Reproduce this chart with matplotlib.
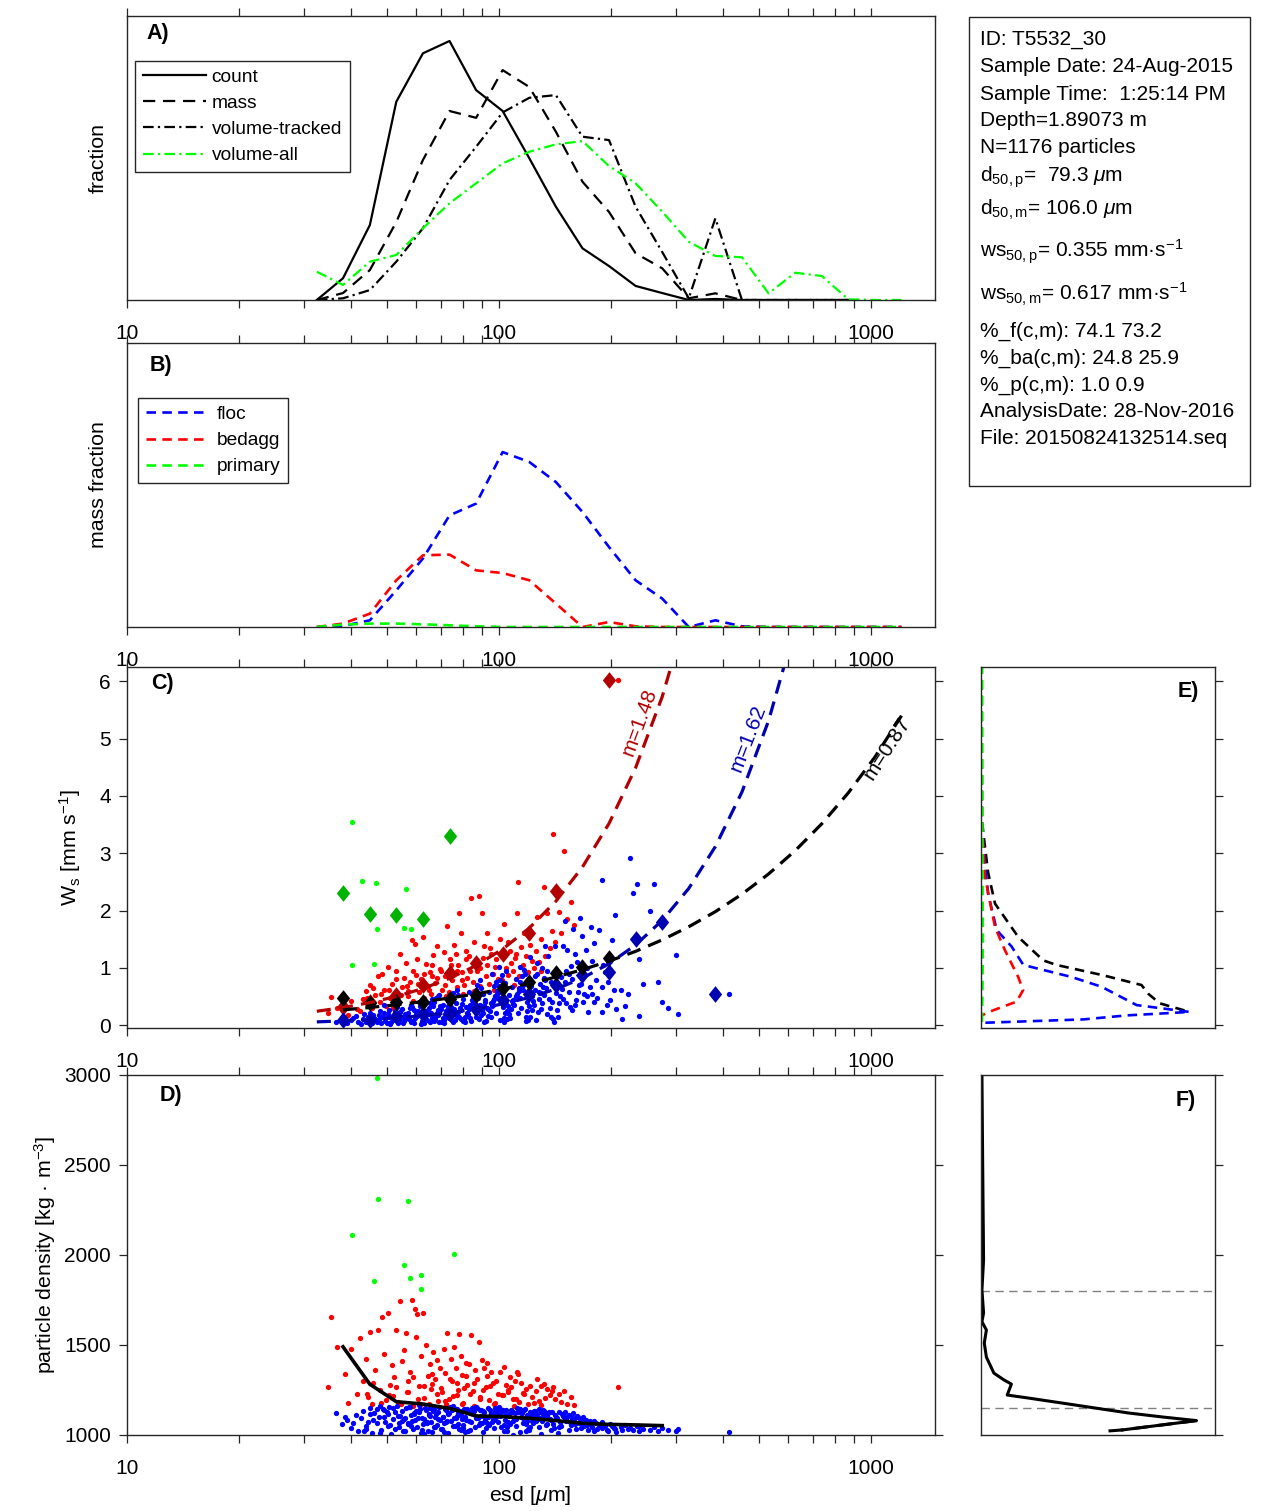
import matplotlib.pyplot as plt
import numpy as np
from matplotlib.ticker import NullFormatter
from matplotlib.patches import Rectangle

plt.rcParams['font.family'] = ['Liberation Sans', 'DejaVu Sans']
plt.rcParams['mathtext.fontset'] = 'custom'
plt.rcParams['mathtext.rm'] = 'Liberation Sans'
plt.rcParams['mathtext.it'] = 'Liberation Sans:italic'
plt.rcParams['font.size'] = 15
plt.rcParams['axes.linewidth'] = 1.0
plt.rcParams['axes.edgecolor'] = '#262626'

# ---- size bins (esd, um) ----
esd_bins = [32.4, 38.1, 45.0, 53.0, 62.5, 73.7, 86.9, 102.4, 120.8, 142.4, 167.9, 197.9,
            233.3, 275.1, 324.3, 382.3, 450.8, 531.5, 626.6, 738.8, 871.0, 1027.0, 1211.0]

# ---- A) size distributions (fraction) ----
count_frac = [0, 0.0153, 0.0528, 0.1396, 0.1737, 0.1824, 0.1478, 0.1331, 0.0998, 0.0657, 0.0364,
              0.0239, 0.0099, 0.0049, 0, 0.0007, 0, 0, 0, 0, 0]
mass_frac = [0, 0.0049, 0.0211, 0.0549, 0.0986, 0.1331, 0.1283, 0.1619, 0.1500, 0.1185, 0.0833,
             0.0620, 0.0329, 0.0223, 0.0012, 0.0047, 0, 0, 0, 0, 0]
voltr_frac = [0, 0.0012, 0.0070, 0.0270, 0.0505, 0.0845, 0.1079, 0.1321, 0.1424, 0.1443, 0.1150,
              0.1126, 0.0657, 0.0338, 0.0012, 0.0575, 0, 0, 0, 0, 0]
volall_frac = [0.0199, 0.0106, 0.0270, 0.0317, 0.0505, 0.0681, 0.0822, 0.0962, 0.1044, 0.1096,
               0.1119, 0.0943, 0.0822, 0.0622, 0.0410, 0.0310, 0.0301, 0.0047, 0.0192, 0.0169,
               0.0005, 0, 0]

# ---- B) mass fraction per class ----
floc_mf = [0, 0.0007, 0.0047, 0.0258, 0.0482, 0.0786, 0.0869, 0.1232, 0.1162, 0.1021, 0.0810,
           0.0563, 0.0329, 0.0200, 0, 0.0047, 0.0005, 0, 0, 0, 0, 0, 0]
bedagg_mf = [0, 0.0024, 0.0094, 0.0329, 0.0505, 0.0510, 0.0399, 0.0380, 0.0329, 0.0165, 0,
             0.0035, 0.0005, 0, 0, 0, 0, 0, 0, 0, 0, 0, 0]
primary_mf = [0, 0.0017, 0.0024, 0.0024, 0.0019, 0.0012, 0.0005, 0, 0, 0, 0, 0, 0, 0, 0, 0,
              0, 0, 0, 0, 0, 0, 0]

# ---- particles (esd um, ws mm/s, density kg/m3) ----
floc = [
    (36.5, 0.05, 1124), (37.8, 0.12, 1060), (39.0, 0.03, 1085), (40.1, 0.09, 1040), (41.2, 0.16, 1110),
    (41.8, 0.06, 1020), (38.5, 0.07, 1098), (40.6, 0.13, 1066), (43.4, 0.19, 1024),
    (42.5, 0.02, 1095), (43.1, 0.11, 1135), (43.8, 0.07, 1050), (44.4, 0.15, 1075), (45.0, 0.21, 1150),
    (45.6, 0.04, 1010), (46.2, 0.13, 1120), (46.9, 0.09, 1065), (47.5, 0.18, 1100), (47.9, 0.25, 1160),
    (44.0, 0.05, 1032), (44.9, 0.10, 1118), (46.0, 0.17, 1082), (47.0, 0.06, 1142), (48.0, 0.12, 1012),
    (48.3, 0.03, 1030), (48.9, 0.14, 1145), (49.5, 0.08, 1070), (50.2, 0.20, 1115), (50.8, 0.26, 1155),
    (51.4, 0.05, 1005), (52.0, 0.11, 1088), (52.7, 0.17, 1128), (53.3, 0.31, 1162), (53.9, 0.09, 1045),
    (54.4, 0.23, 1105), (54.9, 0.14, 1078), (49.2, 0.35, 1138), (51.1, 0.02, 1058),
    (49.0, 0.22, 1098), (50.0, 0.04, 1126), (50.5, 0.15, 1052), (51.8, 0.09, 1150), (52.5, 0.24, 1034),
    (53.5, 0.03, 1108), (54.0, 0.18, 1068),
    (55.3, 0.04, 1022), (55.8, 0.10, 1092), (56.4, 0.16, 1148), (57.0, 0.22, 1068), (57.6, 0.30, 1158),
    (58.2, 0.36, 1112), (58.8, 0.07, 1036), (59.4, 0.13, 1082), (60.0, 0.19, 1132), (60.6, 0.25, 1097),
    (61.2, 0.33, 1142), (61.7, 0.02, 1012), (56.9, 0.12, 1062), (59.0, 0.27, 1122), (60.9, 0.40, 1165),
    (58.0, 0.05, 1048), (55.0, 0.28, 1136), (55.5, 0.07, 1090), (56.0, 0.20, 1024), (57.3, 0.11, 1156),
    (58.5, 0.32, 1076), (59.2, 0.04, 1114), (60.3, 0.16, 1042), (61.0, 0.23, 1128),
    (62.3, 0.05, 1028), (62.9, 0.11, 1090), (63.6, 0.17, 1140), (64.2, 0.24, 1072), (64.9, 0.30, 1118),
    (65.5, 0.38, 1152), (66.2, 0.45, 1160), (66.8, 0.08, 1042), (67.5, 0.14, 1102), (68.1, 0.21, 1056),
    (68.8, 0.27, 1130), (69.4, 0.34, 1084), (63.1, 0.03, 1008), (65.0, 0.19, 1110), (67.0, 0.41, 1145),
    (69.0, 0.52, 1155), (64.0, 0.09, 1066), (66.0, 0.13, 1018),
    (62.0, 0.08, 1096), (62.6, 0.35, 1060), (63.3, 0.14, 1150), (64.5, 0.27, 1020), (65.3, 0.05, 1104),
    (65.8, 0.22, 1070), (66.5, 0.33, 1136), (67.2, 0.10, 1046), (67.8, 0.48, 1118), (68.5, 0.18, 1088),
    (69.2, 0.06, 1158), (69.8, 0.29, 1032),
    (70.2, 0.06, 1034), (70.9, 0.12, 1098), (71.7, 0.19, 1146), (72.4, 0.26, 1076), (73.2, 0.33, 1124),
    (74.0, 0.40, 1156), (74.8, 0.48, 1138), (75.5, 0.56, 1162), (76.3, 0.09, 1050), (77.1, 0.16, 1106),
    (77.9, 0.23, 1060), (78.6, 0.30, 1134), (79.4, 0.37, 1088), (71.0, 0.04, 1014), (73.0, 0.21, 1116),
    (75.0, 0.44, 1150), (77.0, 0.62, 1142), (79.0, 0.11, 1026), (72.0, 0.15, 1070), (76.0, 0.28, 1094),
    (70.6, 0.36, 1100), (71.3, 0.09, 1064), (72.0, 0.24, 1140), (72.8, 0.42, 1010), (73.6, 0.13, 1122),
    (74.4, 0.31, 1078), (75.2, 0.05, 1048), (76.0, 0.19, 1152), (76.8, 0.38, 1092), (77.5, 0.52, 1124),
    (78.3, 0.14, 1036), (79.1, 0.26, 1110), (79.9, 0.45, 1058),
    (80.3, 0.07, 1038), (81.2, 0.14, 1100), (82.1, 0.22, 1142), (83.0, 0.29, 1078), (83.9, 0.36, 1120),
    (84.8, 0.44, 1152), (85.7, 0.52, 1132), (86.6, 0.61, 1158), (87.5, 0.70, 1148), (88.4, 0.10, 1054),
    (89.3, 0.18, 1108), (90.2, 0.26, 1064), (91.1, 0.33, 1126), (91.8, 0.40, 1086), (81.0, 0.05, 1016),
    (85.0, 0.48, 1114), (89.0, 0.78, 1140), (83.5, 0.12, 1030), (87.0, 0.24, 1092), (90.6, 0.55, 1136),
    (80.8, 0.11, 1144), (81.7, 0.31, 1086), (82.6, 0.19, 1022), (83.4, 0.58, 1130), (84.3, 0.08, 1072),
    (85.2, 0.40, 1116), (86.1, 0.27, 1044), (87.0, 0.15, 1154), (87.9, 0.47, 1094), (88.8, 0.35, 1066),
    (89.7, 0.64, 1138), (90.5, 0.21, 1018), (91.4, 0.06, 1106),
    (92.5, 0.08, 1040), (93.6, 0.16, 1102), (94.6, 0.25, 1138), (95.7, 0.33, 1074), (96.7, 0.42, 1118),
    (97.8, 0.50, 1150), (98.8, 0.59, 1128), (99.9, 0.68, 1155), (100.9, 0.78, 1144), (102.0, 0.88, 1134),
    (103.0, 0.12, 1056), (104.0, 0.21, 1110), (93.0, 0.30, 1066), (95.0, 0.38, 1122), (97.0, 0.46, 1084),
    (99.0, 0.55, 1146), (101.0, 0.64, 1104), (103.5, 0.05, 1020), (104.6, 0.95, 1140), (98.0, 0.76, 1098),
    (96.0, 0.90, 1130), (100.3, 1.02, 1148),
    (92.0, 0.43, 1080), (93.3, 0.28, 1148), (94.2, 0.57, 1054), (95.3, 0.14, 1120), (96.3, 0.36, 1090),
    (97.3, 0.69, 1038), (98.4, 0.22, 1132), (99.4, 0.47, 1070), (100.5, 0.09, 1112), (101.5, 0.58, 1046),
    (102.5, 0.31, 1140), (103.8, 0.74, 1084),
    (105.5, 0.10, 1044), (106.8, 0.19, 1104), (108.0, 0.28, 1140), (109.3, 0.37, 1080), (110.5, 0.46, 1124),
    (111.8, 0.55, 1150), (113.0, 0.65, 1132), (114.3, 0.75, 1146), (115.5, 0.86, 1120), (116.8, 0.97, 1138),
    (118.0, 0.14, 1060), (119.2, 0.24, 1112), (106.0, 0.33, 1070), (108.5, 0.42, 1128), (111.0, 0.51, 1090),
    (113.5, 0.60, 1142), (116.0, 0.70, 1096), (118.5, 0.08, 1024), (114.0, 1.02, 1136), (109.0, 0.44, 1002),
    (119.6, 0.09, 1034), (121.0, 1.19, 1126),
    (105.0, 0.24, 1024), (106.3, 0.52, 1118), (107.5, 0.13, 1062), (108.8, 0.66, 1134), (110.0, 0.35, 1092),
    (111.3, 0.80, 1050), (112.5, 0.21, 1126), (113.8, 0.48, 1016), (115.0, 0.30, 1100), (116.3, 0.62, 1068),
    (117.5, 0.90, 1142), (118.8, 0.40, 1080),
    (121.5, 0.15, 1046), (123.0, 0.26, 1100), (124.5, 0.36, 1134), (126.0, 0.09, 1076), (127.0, 1.08, 1118),
    (128.5, 0.46, 1144), (130.0, 0.56, 1128), (131.5, 0.67, 1138), (133.0, 0.78, 1110), (134.5, 0.20, 1062),
    (136.0, 1.21, 1122), (137.5, 0.30, 1088), (139.0, 0.40, 1130), (122.5, 0.50, 1080), (125.5, 0.61, 1116),
    (129.0, 0.72, 1094), (132.0, 0.83, 1132), (135.0, 0.95, 1106), (138.0, 0.15, 1028), (133.0, 1.38, 1124),
    (126.5, 0.90, 1100), (129.5, 0.29, 1008),
    (120.5, 0.33, 1030), (122.0, 0.68, 1112), (123.8, 0.42, 1066), (125.0, 0.85, 1136), (127.5, 0.23, 1090),
    (128.0, 0.58, 1044), (130.5, 0.38, 1120), (131.0, 1.00, 1078), (132.5, 0.52, 1104), (134.0, 0.64, 1054),
    (136.5, 0.45, 1128), (138.5, 0.75, 1086), (139.5, 0.10, 1062),
    (141.0, 0.05, 1040), (142.0, 1.38, 1110), (143.5, 0.26, 1096), (145.0, 0.38, 1126), (146.5, 0.50, 1070),
    (148.0, 0.63, 1118), (149.0, 1.38, 1104), (150.5, 0.76, 1128), (152.0, 0.38, 1082), (153.0, 1.31, 1100),
    (154.5, 0.90, 1112), (156.0, 1.04, 1058), (157.0, 0.26, 1086), (158.0, 1.67, 1120), (160.0, 1.24, 1094),
    (161.5, 0.44, 1036), (163.0, 0.57, 1102), (164.5, 0.70, 1066), (151.0, 1.82, 1090), (147.0, 0.84, 1048),
    (144.0, 0.14, 1012), (155.0, 0.31, 1074),
    (142.5, 0.56, 1100), (145.5, 0.68, 1044), (148.5, 0.45, 1112), (151.5, 0.95, 1076), (154.0, 0.58, 1030),
    (157.5, 0.80, 1094), (160.5, 0.36, 1062), (162.5, 1.10, 1108),
    (165.0, 1.87, 1090), (167.0, 1.55, 1062), (168.5, 0.41, 1098), (170.0, 0.55, 1050), (172.0, 1.31, 1084),
    (172.5, 0.99, 1072), (174.0, 0.23, 1030), (176.0, 0.67, 1078), (177.0, 1.71, 1058), (178.0, 0.55, 1044),
    (180.0, 1.44, 1080), (180.5, 0.41, 1020), (183.0, 0.79, 1066), (186.0, 1.66, 1054), (189.0, 0.23, 1040),
    (190.0, 0.67, 1070), (193.0, 0.93, 1048), (196.0, 0.35, 1026), (199.0, 0.44, 1060), (201.0, 1.49, 1052),
    (204.0, 0.62, 1038), (207.0, 0.28, 1018), (189.0, 2.53, 1046), (205.0, 1.92, 1034),
    (166.0, 0.72, 1040), (169.0, 0.86, 1082), (173.0, 0.50, 1056), (178.5, 1.12, 1068), (184.0, 0.48, 1036),
    (191.0, 1.05, 1052), (197.0, 0.75, 1024),
    (213.0, 0.61, 1042), (214.0, 0.10, 1028), (218.0, 0.33, 1056), (223.0, 0.54, 1036), (225.0, 2.91, 1040),
    (229.0, 2.30, 1030), (236.0, 2.46, 1048), (238.0, 1.15, 1022), (238.0, 0.16, 1050), (244.0, 0.72, 1032),
    (255.0, 1.99, 1026), (262.0, 2.46, 1044), (268.0, 0.76, 1020), (275.0, 0.40, 1038), (285.0, 0.30, 1030),
    (299.0, 1.23, 1022), (304.0, 0.20, 1034), (417.0, 0.54, 1017),
]

bedagg = [
    (34.8, 0.22, 1265), (35.3, 0.49, 1657), (36.8, 0.30, 1490), (38.5, 0.35, 1340), (40.0, 0.42, 1478),
    (41.5, 0.28, 1230), (39.2, 0.18, 1180),
    (42.3, 0.25, 1537), (43.0, 0.45, 1300), (43.8, 0.60, 1420), (44.6, 0.38, 1210), (45.0, 0.70, 1570),
    (45.7, 0.30, 1170), (46.5, 0.52, 1360), (47.2, 0.85, 1583), (47.9, 0.40, 1250), (48.5, 0.90, 1654),
    (49.2, 0.62, 1450), (49.8, 0.33, 1195), (44.2, 0.48, 1230), (46.0, 0.65, 1290), (48.2, 0.55, 1180),
    (50.2, 1.02, 1680), (50.9, 0.48, 1280), (51.6, 0.72, 1390), (52.3, 0.55, 1320), (53.0, 0.95, 1583),
    (53.7, 0.38, 1185), (54.3, 1.25, 1744), (54.9, 0.66, 1410), (55.6, 0.82, 1470), (56.2, 1.09, 1565),
    (56.9, 0.50, 1240), (57.6, 0.75, 1350), (58.3, 1.48, 1750), (58.9, 0.42, 1160), (59.5, 1.41, 1700),
    (59.9, 0.88, 1546), (52.0, 0.30, 1215), (57.0, 0.60, 1300), (50.6, 0.62, 1225), (52.8, 0.80, 1265),
    (54.6, 0.52, 1175), (56.5, 0.68, 1240), (58.6, 0.95, 1320),
    (60.3, 1.15, 1672), (61.0, 0.58, 1270), (61.7, 0.80, 1440), (62.4, 1.53, 1678), (63.1, 0.47, 1205),
    (63.8, 1.06, 1500), (64.5, 0.68, 1330), (65.2, 0.92, 1395), (65.9, 0.55, 1255), (66.6, 1.22, 1460),
    (67.3, 0.74, 1310), (68.0, 1.38, 1415), (68.7, 0.50, 1190), (69.4, 0.98, 1370), (61.5, 0.40, 1165),
    (66.0, 0.85, 1285), (60.6, 0.72, 1200), (62.8, 0.90, 1275), (64.8, 0.62, 1170), (66.3, 1.05, 1340),
    (68.3, 0.82, 1230),
    (70.3, 0.62, 1240), (71.0, 1.27, 1480), (71.8, 0.86, 1345), (72.6, 1.73, 1565), (73.4, 0.58, 1200),
    (74.2, 1.05, 1420), (75.0, 0.78, 1300), (75.8, 1.40, 1490), (76.6, 1.25, 1375), (77.4, 0.66, 1225),
    (78.2, 1.96, 1561), (79.0, 1.61, 1440), (79.8, 0.92, 1335), (80.6, 0.70, 1260), (81.4, 1.15, 1400),
    (72.0, 0.50, 1170), (77.0, 0.95, 1290), (80.0, 0.55, 1180), (70.0, 0.95, 1260), (71.5, 0.70, 1190),
    (73.8, 1.15, 1310), (75.4, 0.88, 1215), (77.8, 1.05, 1250), (79.4, 0.78, 1175),
    (82.2, 0.82, 1280), (83.2, 1.21, 1395), (84.2, 2.21, 1556), (85.2, 0.75, 1245), (86.2, 1.10, 1360),
    (87.2, 0.95, 1310), (88.2, 2.26, 1515), (89.2, 0.68, 1210), (90.2, 1.95, 1419), (91.2, 1.38, 1371),
    (92.2, 0.85, 1265), (93.2, 1.05, 1330), (94.2, 0.72, 1195), (95.2, 1.24, 1350), (96.2, 0.90, 1290),
    (97.2, 0.62, 1175), (98.2, 1.15, 1300), (99.2, 0.80, 1230), (86.0, 0.60, 1160), (93.0, 1.60, 1400),
    (81.8, 1.30, 1330), (83.8, 0.95, 1230), (85.8, 1.45, 1290), (88.8, 1.00, 1200), (90.8, 1.18, 1250),
    (94.8, 1.35, 1270), (97.8, 1.02, 1180),
    (100.5, 1.51, 1350), (101.8, 0.78, 1220), (103.0, 1.76, 1380), (104.3, 1.00, 1280), (105.6, 0.88, 1240),
    (106.9, 1.30, 1320), (108.0, 1.08, 1265), (109.4, 0.95, 1200), (110.7, 1.18, 1300), (112.0, 1.95, 1350),
    (112.5, 2.50, 1340), (113.5, 0.85, 1185), (115.0, 1.37, 1290), (116.5, 1.05, 1235), (118.0, 1.20, 1255),
    (119.5, 0.92, 1170), (121.0, 1.40, 1275), (122.5, 1.12, 1210), (124.0, 1.00, 1180), (110.0, 0.70, 1160),
    (102.5, 1.22, 1225), (106.0, 1.45, 1250), (111.5, 1.25, 1200), (117.0, 1.60, 1230),
    (126.0, 1.30, 1245), (127.0, 1.88, 1309), (128.5, 1.10, 1190), (130.0, 1.50, 1270), (132.0, 2.41, 1282),
    (133.5, 1.20, 1205), (135.0, 1.96, 1255), (137.0, 1.35, 1220), (139.0, 1.65, 1246), (140.0, 3.34, 1265),
    (142.0, 1.45, 1200), (145.0, 1.98, 1230), (147.0, 1.60, 1182), (150.0, 3.04, 1246), (153.0, 1.85, 1175),
    (156.0, 2.15, 1210), (159.0, 1.75, 1167), (130.0, 0.95, 1165),
    (209.0, 6.02, 1265),
]

primary_c = [(40.2, 3.55), (42.8, 2.52), (46.7, 2.48), (56.4, 2.38), (47.1, 1.67), (55.6, 1.70),
             (57.9, 1.68), (40.2, 1.05), (46.1, 1.06)]
primary_d = [(47.0, 2985), (47.3, 2309), (56.9, 2300), (40.2, 2113), (75.8, 2006), (55.6, 1946),
             (57.8, 1872), (46.1, 1856), (61.7, 1890), (61.7, 1811)]

# ---- C) per-bin medians (NaN = empty bin) ----
nan = np.nan
floc_med = [nan, 0.09, 0.09, 0.16, 0.19, 0.20, 0.29, 0.44, 0.55, 0.70, 0.87, 0.93, 1.51, 1.80, nan, 0.54]
bedagg_med = [nan, 0.32, 0.41, 0.52, 0.70, 0.91, 1.08, 1.24, 1.61, 2.34, nan, 6.02]
primary_med = [nan, 2.30, 1.94, 1.92, 1.86, 3.30]
all_med = [nan, 0.47, 0.38, 0.40, 0.41, 0.45, 0.52, 0.64, 0.76, 0.91, 1.02, 1.18]

# power-law fit curves, read along the bins
fit_bedagg = [0.242, 0.307, 0.393, 0.501, 0.639, 0.816, 1.041, 1.327, 1.695, 2.162, 2.760, 3.519,
              4.491, 5.731, 7.31]
fit_floc = [0.057, 0.074, 0.097, 0.127, 0.166, 0.216, 0.283, 0.369, 0.482, 0.629, 0.821, 1.072,
            1.399, 1.828, 2.386, 3.115, 4.069, 5.312, 6.94]
fit_all = [nan, 0.266, 0.308, 0.355, 0.410, 0.473, 0.546, 0.630, 0.727, 0.839, 0.968, 1.117, 1.288,
           1.488, 1.717, 1.980, 2.286, 2.638, 3.044, 3.513, 4.054, 4.678, 5.40]

# ---- D) mean density per bin ----
rho_mean = [nan, 1490, 1282, 1185, 1172, 1148, 1106, 1102, 1093, 1080, 1065, 1059, 1056, 1052]

# ---- E) ws distributions (fraction, ws) ----
e_all_frac = [0.002, 0.003, 0.004, 0.017, 0.031, 0.060, 0.159, 0.266, 0.323, 0.522, 0.686, 0.714, 0.764, 0.892]
e_all_ws = [6.3, 4.5, 3.57, 3.11, 2.65, 2.12, 1.54, 1.13, 1.05, 0.87, 0.70, 0.55, 0.38, 0.23]
e_floc_frac = [0.002, 0.003, 0.016, 0.030, 0.067, 0.131, 0.181, 0.387, 0.515, 0.665, 0.892, 0.623, 0.438, 0.003]
e_floc_ws = [6.3, 3.5, 2.88, 2.30, 1.66, 1.37, 1.05, 0.84, 0.67, 0.35, 0.23, 0.17, 0.10, 0.04]
e_bedagg_frac = [0.003, 0.004, 0.017, 0.060, 0.102, 0.159, 0.180, 0.152, 0.053, 0.003]
e_bedagg_ws = [6.3, 3.5, 2.59, 1.71, 1.31, 0.84, 0.61, 0.41, 0.26, 0.17]
e_primary_frac = [0.005, 0.006, 0.008, 0.006, 0.004]
e_primary_ws = [6.3, 3.0, 1.5, 0.5, 0.05]

# ---- F) density distribution ----
f_frac = [0.004, 0.007, 0.011, 0.004, 0.011, 0.004, 0.023, 0.014, 0.023, 0.055, 0.098, 0.130, 0.112,
          0.199, 0.344, 0.487, 0.632, 0.776, 0.921, 0.603]
f_rho = [3000, 2528, 1972, 1806, 1678, 1630, 1583, 1511, 1433, 1344, 1306, 1283, 1222, 1206, 1178,
         1150, 1122, 1100, 1080, 1028]
f_tail_frac = [0.921, 0.603, 0.509]
f_tail_rho = [1080, 1028, 1019]
f_limits = [1800, 1150]

info_lines = [
    'ID: T5532_30',
    'Sample Date: 24-Aug-2015',
    'Sample Time:  1:25:14 PM',
    'Depth=1.89073 m',
    'N=1176 particles',
    r'd$_{\mathrm{50,p}}$=  79.3 $\mu$m',
    r'd$_{\mathrm{50,m}}$= 106.0 $\mu$m',
    r'ws$_{\mathrm{50,p}}$= 0.355 mm·s$^{-1}$',
    r'ws$_{\mathrm{50,m}}$= 0.617 mm·s$^{-1}$',
    '%_f(c,m): 74.1 73.2',
    '%_ba(c,m): 24.8 25.9',
    '%_p(c,m): 1.0 0.9',
    'AnalysisDate: 28-Nov-2016',
    'File: 20150824132514.seq',
]
info_baselines = [45, 72.5, 99.5, 126.5, 153, 182, 215, 258, 300, 337, 363.5, 390.5, 417, 444]

# ---------------------------------------------------------------
W, H = 1270, 1511
fig = plt.figure(figsize=(W / 100, H / 100), dpi=100)
AX = '#262626'
LBL = 15.4


def px_axes(x0, y0, x1, y1):
    return fig.add_axes([x0 / W, 1 - y1 / H, (x1 - x0) / W, (y1 - y0) / H])


def esd_axis(ax):
    ax.set_xscale('log')
    ax.set_xlim(10, 1490)
    ax.set_xticks([10, 100, 1000], ['10', '100', '1000'])
    ax.xaxis.set_minor_formatter(NullFormatter())
    ax.tick_params(which='both', direction='out', top=True, right=True, length=5.5,
                   width=0.9, color=AX, labelsize=15)
    ax.tick_params(axis='x', pad=12)
    ax.tick_params(axis='y', pad=6)


def panel_label(ax, x, y, s):
    ax.text(x, y, s, transform=ax.transAxes, fontweight='bold', fontsize=15.5,
            ha='left', va='center')


axA = px_axes(127, 16, 935, 300)
axB = px_axes(127, 343, 935, 627)
axC = px_axes(127, 667, 935, 1028)
axD = px_axes(127, 1075, 935, 1435)
axE = px_axes(981, 667, 1215, 1028)
axF = px_axes(981, 1075, 1215, 1435)

# A
n = len(count_frac)
axA.plot(esd_bins[:n], count_frac, '-', color='k', lw=1.6, label='count')
axA.plot(esd_bins[:n], mass_frac, color='k', lw=1.6, dashes=(5.5, 3.5), label='mass')
axA.plot(esd_bins[:n], voltr_frac, color='k', lw=1.6, dashes=(4.8, 1.9, 1.0, 1.9), label='volume-tracked')
axA.plot(esd_bins, volall_frac, color=(0, 1, 0), lw=1.6, dashes=(4.8, 1.9, 1.0, 1.9), label='volume-all')
esd_axis(axA)
axA.set_ylim(0, 0.2)
axA.set_yticks([])
axA.set_ylabel('fraction', va='center', fontsize=LBL)
axA.yaxis.set_label_coords(-0.035, 0.5)
leg = axA.legend(loc='upper left', bbox_to_anchor=(0.0099, 0.8415), borderaxespad=0,
                 fancybox=False, edgecolor=AX, framealpha=1, fontsize=13.8,
                 handlelength=3.3, handletextpad=0.3, labelspacing=0.45, borderpad=0.4)
leg.get_frame().set_linewidth(1.0)
panel_label(axA, 0.0235, 0.94, 'A)')

# B
axB.plot(esd_bins, floc_mf, color=(0, 0, 1), lw=1.9, dashes=(3.6, 2.4), label='floc')
axB.plot(esd_bins, bedagg_mf, color=(1, 0, 0), lw=1.9, dashes=(3.6, 2.4), label='bedagg')
axB.plot(esd_bins, primary_mf, color=(0, 1, 0), lw=1.9, dashes=(3.6, 2.4), label='primary')
esd_axis(axB)
axB.set_ylim(0, 0.2)
axB.set_yticks([])
axB.set_ylabel('mass fraction', va='center', fontsize=LBL)
axB.yaxis.set_label_coords(-0.035, 0.5)
leg = axB.legend(loc='upper left', bbox_to_anchor=(0.0136, 0.806), borderaxespad=0,
                 fancybox=False, edgecolor=AX, framealpha=1, fontsize=13.8,
                 handlelength=3.3, handletextpad=0.4, labelspacing=0.45, borderpad=0.4)
leg.get_frame().set_linewidth(1.0)
panel_label(axB, 0.0285, 0.9225, 'B)')

# C
diamond = [(0, 1), (0.8, 0), (0, -1), (-0.8, 0), (0, 1)]
be, bw, br = zip(*bedagg)
fe, fw, fr = zip(*floc)
pe, pw = zip(*primary_c)
axC.plot(be, bw, 'o', color=(1, 0, 0), ms=3.8, mew=0)
axC.plot(fe, fw, 'o', color=(0, 0, 1), ms=3.8, mew=0)
axC.plot(pe, pw, 'o', color=(0, 1, 0), ms=3.8, mew=0)
axC.plot(esd_bins[:len(primary_med)], primary_med, ls='none', marker=diamond, ms=12, mew=0, color=(0, 0.7, 0))
axC.plot(esd_bins[:len(bedagg_med)], bedagg_med, ls='none', marker=diamond, ms=12, mew=0, color=(0.7, 0, 0))
axC.plot(esd_bins[:len(floc_med)], floc_med, ls='none', marker=diamond, ms=12, mew=0, color=(0, 0, 0.7))
axC.plot(esd_bins[:len(all_med)], all_med, ls='none', marker=diamond, ms=12, mew=0, color='k')
axC.plot(esd_bins[:len(fit_bedagg)], fit_bedagg, color=(0.7, 0, 0), lw=2.3, dashes=(4.4, 2.6))
axC.plot(esd_bins[:len(fit_floc)], fit_floc, color=(0, 0, 0.7), lw=2.3, dashes=(4.4, 2.6))
axC.plot(esd_bins, fit_all, color='k', lw=2.3, dashes=(4.4, 2.6))
axC.text(239, 5.28, 'm=1.48', color=(0.7, 0, 0), rotation=70, ha='center', va='center', fontsize=15)
axC.text(467, 5.0, 'm=1.62', color=(0, 0, 0.7), rotation=69, ha='center', va='center', fontsize=15)
axC.text(1111, 4.83, 'm=0.87', color='k', rotation=57, ha='center', va='center', fontsize=15)
esd_axis(axC)
axC.set_ylim(-0.05, 6.25)
axC.set_yticks([0, 1, 2, 3, 4, 5, 6])
axC.set_ylabel(r'W$_{\mathrm{s}}$ [mm s$^{-1}$]', va='center', fontsize=LBL)
axC.yaxis.set_label_coords(-0.0705, 0.5)
panel_label(axC, 0.0297, 0.953, 'C)')

# D
de, dr = zip(*primary_d)
axD.plot(be, br, 'o', color=(1, 0, 0), ms=3.8, mew=0)
axD.plot(fe, fr, 'o', color=(0, 0, 1), ms=3.8, mew=0)
axD.plot(de, dr, 'o', color=(0, 1, 0), ms=3.8, mew=0)
axD.plot(esd_bins[:len(rho_mean)], rho_mean, '-', color='k', lw=2.6)
esd_axis(axD)
axD.set_ylim(1000, 3000)
axD.set_yticks([1000, 1500, 2000, 2500, 3000])
axD.set_ylabel('particle density [kg · m$^{-3}$]', va='center', fontsize=LBL)
axD.yaxis.set_label_coords(-0.1015, 0.5)
axD.set_xlabel(r'esd [$\mu$m]', va='center', fontsize=LBL)
axD.xaxis.set_label_coords(0.4988, -0.1667)
panel_label(axD, 0.0408, 0.9417, 'D)')

# E
axE.plot(e_all_frac, e_all_ws, color='k', lw=1.9, dashes=(3.6, 2.4))
axE.plot(e_floc_frac, e_floc_ws, color=(0, 0, 1), lw=1.9, dashes=(3.6, 2.4))
axE.plot(e_bedagg_frac, e_bedagg_ws, color=(1, 0, 0), lw=1.9, dashes=(3.6, 2.4))
axE.plot(e_primary_frac, e_primary_ws, color=(0, 1, 0), lw=1.9, dashes=(3.6, 2.4))
axE.set_xlim(0, 1)
axE.set_ylim(-0.05, 6.25)
axE.set_xticks([])
axE.set_yticks([0, 1, 2, 3, 4, 5, 6])
axE.tick_params(axis='y', left=False, right=True, labelleft=False, direction='out',
                length=5.5, width=0.9, color=AX)
panel_label(axE, 0.84, 0.9335, 'E)')

# F
for lim in f_limits:
    axF.axhline(lim, color=(0.5, 0.5, 0.5), lw=1.0, dashes=(6, 4))
axF.plot(f_tail_frac, f_tail_rho, color='k', lw=2.2, dashes=(5, 3))
axF.plot(f_frac, f_rho, '-', color='k', lw=2.2)
axF.set_xlim(0, 1)
axF.set_ylim(1000, 3000)
axF.set_xticks([])
axF.set_yticks([1000, 1500, 2000, 2500, 3000])
axF.tick_params(axis='y', left=False, right=True, labelleft=False, direction='out',
                length=5.5, width=0.9, color=AX)
panel_label(axF, 0.8316, 0.9278, 'F)')

# info box
fig.patches.append(Rectangle((969 / W, 1 - 486 / H), 281 / W, 469 / H, transform=fig.transFigure,
                             fill=False, edgecolor=AX, lw=1.0))
for s, yb in zip(info_lines, info_baselines):
    fig.text(980 / W, 1 - yb / H, s, ha='left', va='baseline', fontsize=15)

fig.savefig('out.png', dpi=100)
